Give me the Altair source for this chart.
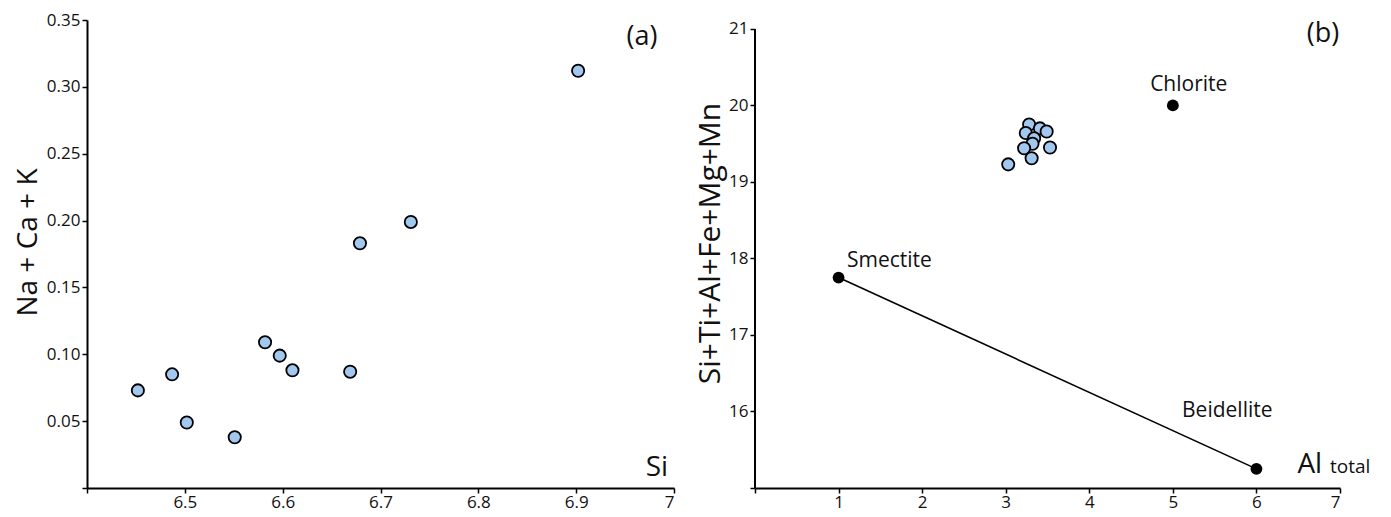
import altair as alt
import pandas as pd

FONT = "Open Sans"

# Panel (a): Si vs Na+Ca+K
si = [6.452, 6.487, 6.502, 6.551, 6.582, 6.597, 6.610, 6.669, 6.679, 6.731, 6.902]
naca_k = [0.073, 0.085, 0.049, 0.038, 0.109, 0.099, 0.088, 0.087, 0.183, 0.199, 0.312]

# Panel (b): Al total vs Si+Ti+Al+Fe+Mg+Mn
al_tot = [3.03, 3.28, 3.24, 3.41, 3.49, 3.34, 3.32, 3.22, 3.53, 3.31]
cat_sum = [19.23, 19.75, 19.64, 19.70, 19.66, 19.57, 19.50, 19.44, 19.45, 19.31]

# Reference minerals
ref_names = ["Smectite", "Chlorite", "Beidellite"]
ref_x = [1, 5, 6]
ref_y = [17.75, 20.0, 15.25]

# line Smectite -> Beidellite
line_x = [1, 6]
line_y = [17.75, 15.25]

# annotation texts (data coordinates)
a_lab = ["(a)"]; a_lab_x = [6.983]; a_lab_y = [0.337]
a_ax = ["Si"]; a_ax_x = [6.994]; a_ax_y = [0.0148]

b_lab = ["(b)"]; b_lab_x = [6.99]; b_lab_y = [20.935]
name_lab_x = [1.10, 5.19, 5.11]
name_lab_y = [17.97, 20.27, 16.0]
name_align = ["left", "center", "left"]
b_al_x = [6.49]; b_al_y = [15.19]
b_tot_x = [6.88]; b_tot_y = [15.19]

xa_ticks = [6.4, 6.5, 6.6, 6.7, 6.8, 6.9, 7.0]
ya_ticks = [0, 0.05, 0.10, 0.15, 0.20, 0.25, 0.30, 0.35]
xb_ticks = [0, 1, 2, 3, 4, 5, 6, 7]
yb_ticks = [15, 16, 17, 18, 19, 20, 21]

FILL = "#a3c8f0"
TXT = "#111"

dfa = pd.DataFrame({"si": si, "v": naca_k})
dfb = pd.DataFrame({"al": al_tot, "s": cat_sum})
dfr = pd.DataFrame({"name": ref_names, "x": ref_x, "y": ref_y,
                    "lx": name_lab_x, "ly": name_lab_y})
dfl = pd.DataFrame({"x": line_x, "y": line_y})

W_A, W_B, H = 587, 585, 468

xa = alt.X("si:Q", scale=alt.Scale(domain=[6.4, 7.0], nice=False, zero=False),
           axis=alt.Axis(values=xa_ticks, title=None,
                         labelExpr="abs(datum.value-6.4)<1e-6 ? '' : (abs(datum.value-7)<1e-6 ? '7' : format(datum.value, '.1f'))"))
ya = alt.Y("v:Q", scale=alt.Scale(domain=[0, 0.35], nice=False),
           axis=alt.Axis(values=ya_ticks, title="Na + Ca + K", titleFontSize=28,
                         titleFontWeight="normal", titlePadding=4, titleY=222,
                         labelExpr="datum.value == 0 ? '' : format(datum.value, '.2f')"))

pts_a = alt.Chart(dfa).mark_point(filled=True, shape="circle", size=150, fill=FILL,
                                  stroke="black", strokeWidth=1.8, opacity=1).encode(x=xa, y=ya)

txt_a = alt.Chart(pd.DataFrame({"t": a_lab, "x": a_lab_x, "y": a_lab_y})).mark_text(
    font=FONT, fontSize=27, align="right", baseline="middle", color=TXT).encode(
    x=alt.X("x:Q"), y=alt.Y("y:Q"), text="t:N")
txt_si = alt.Chart(pd.DataFrame({"t": a_ax, "x": a_ax_x, "y": a_ax_y})).mark_text(
    font=FONT, fontSize=28, align="right", baseline="middle", color=TXT).encode(
    x=alt.X("x:Q"), y=alt.Y("y:Q"), text="t:N")

panel_a = alt.layer(pts_a, txt_a, txt_si).properties(width=W_A, height=H)

ytop_b = 15 + 6 * 472 / 463
xb = alt.X("x:Q", scale=alt.Scale(domain=[0, 7], nice=False),
           axis=alt.Axis(values=xb_ticks, title=None,
                         labelExpr="datum.value == 0 ? '' : format(datum.value, 'd')"))
yb = alt.Y("y:Q", scale=alt.Scale(domain=[15, ytop_b], nice=False, zero=False),
           axis=alt.Axis(values=yb_ticks, title="Si+Ti+Al+Fe+Mg+Mn", titleFontSize=30,
                         titleFontWeight="normal", titlePadding=3, domain=False, titleY=223,
                         labelExpr="datum.value == 15 ? '' : format(datum.value, 'd')"))

yaxis_line = alt.Chart(pd.DataFrame({"x": [0], "y": [15], "y2": [21]})).mark_rule(
    color="black", strokeWidth=2).encode(x=xb, y=yb, y2="y2:Q")

ln = alt.Chart(dfl).mark_line(color="black", strokeWidth=1.6).encode(x=xb, y=yb)
pts_b = alt.Chart(dfb.rename(columns={"al": "x", "s": "y"})).mark_point(
    filled=True, shape="circle", size=150, fill=FILL, stroke="black",
    strokeWidth=1.8, opacity=1).encode(x=xb, y=yb)
refs = alt.Chart(dfr).mark_point(filled=True, shape="circle", size=140, color="black",
                                 opacity=1).encode(x=xb, y=yb)

def name_text(i):
    d = pd.DataFrame({"t": [ref_names[i]], "x": [name_lab_x[i]], "y": [name_lab_y[i]]})
    return alt.Chart(d).mark_text(font=FONT, fontSize=21, align=name_align[i],
                                  baseline="middle", color=TXT).encode(
        x="x:Q", y="y:Q", text="t:N")

txt_b = alt.Chart(pd.DataFrame({"t": b_lab, "x": b_lab_x, "y": b_lab_y})).mark_text(
    font=FONT, fontSize=27, align="right", baseline="middle", color=TXT).encode(
    x="x:Q", y="y:Q", text="t:N")
txt_al = alt.Chart(pd.DataFrame({"t": ["Al"], "x": b_al_x, "y": b_al_y})).mark_text(
    font=FONT, fontSize=28, align="left", baseline="alphabetic", color=TXT).encode(
    x="x:Q", y="y:Q", text="t:N")
txt_tot = alt.Chart(pd.DataFrame({"t": ["total"], "x": b_tot_x, "y": b_tot_y})).mark_text(
    font=FONT, fontSize=19, align="left", baseline="alphabetic", color=TXT).encode(
    x="x:Q", y="y:Q", text="t:N")

panel_b = alt.layer(yaxis_line, ln, pts_b, refs, name_text(0), name_text(1), name_text(2),
                    txt_b, txt_al, txt_tot).properties(width=W_B, height=H)

chart = alt.hconcat(panel_a, panel_b, spacing=20).properties(
    padding={"left": 6, "top": 3, "right": 0, "bottom": 3}
).configure_view(stroke=None).configure_axis(
    grid=False, domainColor="black", domainWidth=2, tickColor="black", tickSize=5,
    tickWidth=1.5, labelFont=FONT, labelFontSize=17, labelColor=TXT,
    titleFont=FONT, titleColor=TXT, labelPadding=2
).configure_axisX(labelPadding=1)

chart.save("out.html", embed_options={"renderer": "svg", "actions": False})
